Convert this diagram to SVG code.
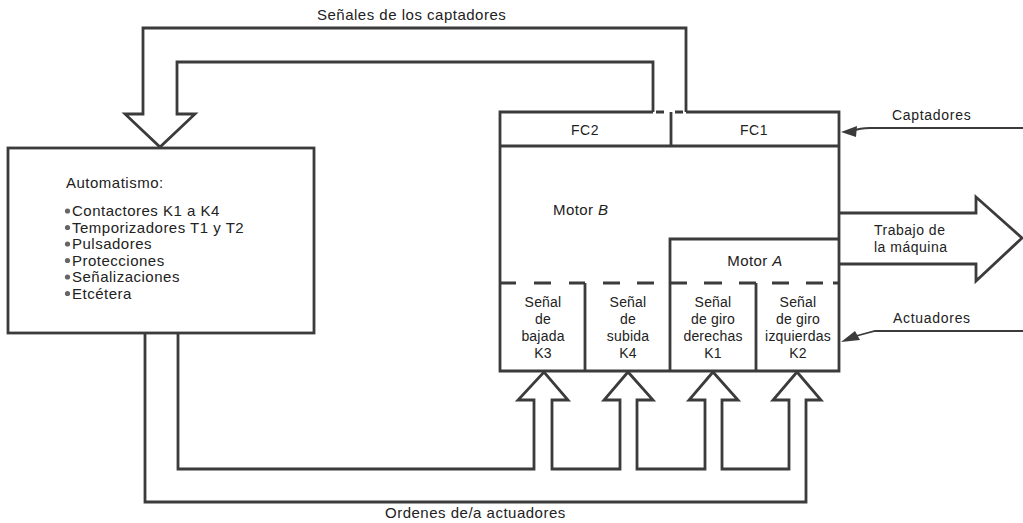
<svg xmlns="http://www.w3.org/2000/svg" width="1023" height="523" viewBox="0 0 1023 523">
<style>
.ln{fill:none;stroke:#3b3b3b;stroke-width:2.8;stroke-linejoin:miter;stroke-linecap:butt}
.thin{fill:none;stroke:#3b3b3b;stroke-width:1.8}
.dash{fill:none;stroke:#3b3b3b;stroke-width:2.8}
.ah{fill:#3b3b3b;stroke:none}
text{font-family:"Liberation Sans",Arial,sans-serif;fill:#222;font-size:14px}
.lbl{font-size:15px;letter-spacing:0.5px}
.it{font-style:italic}
.c{text-anchor:middle}
.bl{font-size:15px;letter-spacing:0.5px}
.sb{letter-spacing:0.2px}
</style>
<rect width="1023" height="523" fill="#ffffff"/>

<g id="automatismo">
<rect class="ln" x="8" y="148" width="306" height="185"/>
<text x="66" y="188" class="bl">Automatismo:</text>
<circle cx="67.5" cy="211" r="2.6" fill="#666"/><text x="72" y="216" class="bl">Contactores K1 a K4</text>
<circle cx="67.5" cy="227.5" r="2.6" fill="#666"/><text x="72" y="232.5" class="bl">Temporizadores T1 y T2</text>
<circle cx="67.5" cy="244" r="2.6" fill="#666"/><text x="72" y="249" class="bl">Pulsadores</text>
<circle cx="67.5" cy="260.5" r="2.6" fill="#666"/><text x="72" y="265.5" class="bl">Protecciones</text>
<circle cx="67.5" cy="277" r="2.6" fill="#666"/><text x="72" y="282" class="bl">Señalizaciones</text>
<circle cx="67.5" cy="293.5" r="2.6" fill="#666"/><text x="72" y="298.5" class="bl">Etcétera</text>
</g>

<g id="maquina">
<path class="ln" d="M653,112 H500 V371 H839 V112 H686"/>
<line class="ln" x1="500" y1="146" x2="839" y2="146"/>
<line class="ln" x1="671" y1="112" x2="671" y2="146"/>
<path class="dash" d="M656,112 H664 M675,112 H683"/>
<path class="ln" d="M670,371 V239 H839"/>
<line class="ln" x1="585" y1="283" x2="585" y2="371"/>
<line class="ln" x1="756" y1="283" x2="756" y2="371"/>
<path class="dash" d="M500,283 H516 M534,283 H551 M569,283 H585 M603,283 H620 M637,283 H654 M670,283 H687 M704,283 H722 M739,283 H756 M772,283 H789 M806,283 H823 M833,283 H839"/>
<text class="c" x="585" y="135" style="letter-spacing:0.5px">FC2</text>
<text class="c" x="754" y="135" style="letter-spacing:0.5px">FC1</text>
<text x="553" y="215" style="font-size:15px;letter-spacing:0.4px">Motor <tspan class="it">B</tspan></text>
<text class="c" x="755" y="266" style="font-size:15px;letter-spacing:0.4px">Motor <tspan class="it">A</tspan></text>
<g class="sb">
<text class="c" x="543" y="307">Señal</text><text class="c" x="543" y="324">de</text><text class="c" x="543" y="341">bajada</text><text class="c" x="543" y="358">K3</text>
<text class="c" x="628" y="307">Señal</text><text class="c" x="628" y="324">de</text><text class="c" x="628" y="341">subida</text><text class="c" x="628" y="358">K4</text>
<text class="c" x="713" y="307">Señal</text><text class="c" x="713" y="324">de giro</text><text class="c" x="713" y="341">derechas</text><text class="c" x="713" y="358">K1</text>
<text class="c" x="798" y="307">Señal</text><text class="c" x="798" y="324">de giro</text><text class="c" x="798" y="341">izquierdas</text><text class="c" x="798" y="358">K2</text>
</g>
</g>

<g id="connectors">
<path class="ln" d="M686,112 V28 H143 V114 H125 L160,147 L195,114 H177 V62 H653 V112"/>
<path class="ln" d="M178,333 V469 H534 V400 H518 L544,372 L568,400 H552 V469 H620 V400 H604 L628,372 L653,400 H637 V469 H705 V400 H689 L713,372 L738,400 H722 V469 H789 V400 H773 L797,372 L821,400 H806 V502 H145 V333"/>
<path class="ln" d="M839,213 H976 V197 L1022,238 L976,281 V264 H839"/>
<path class="thin" d="M1023,128 H870 Q860,128 852,131"/>
<polygon class="ah" points="841,132 857,126 856,137"/>
<path class="thin" d="M1023,331 H875 L856,336"/>
<polygon class="ah" points="841,342 855,331 860,340"/>
</g>

<g id="labels">
<text class="lbl" x="317" y="20">Señales de los captadores</text>
<text class="lbl" x="385" y="518">Ordenes de/a actuadores</text>
<text x="892" y="120" style="letter-spacing:0.7px">Captadores</text>
<text x="893" y="323" style="letter-spacing:0.7px">Actuadores</text>
<text x="874" y="235" style="letter-spacing:0.5px">Trabajo de</text>
<text x="874" y="252" style="letter-spacing:0.5px">la máquina</text>
</g>
</svg>
